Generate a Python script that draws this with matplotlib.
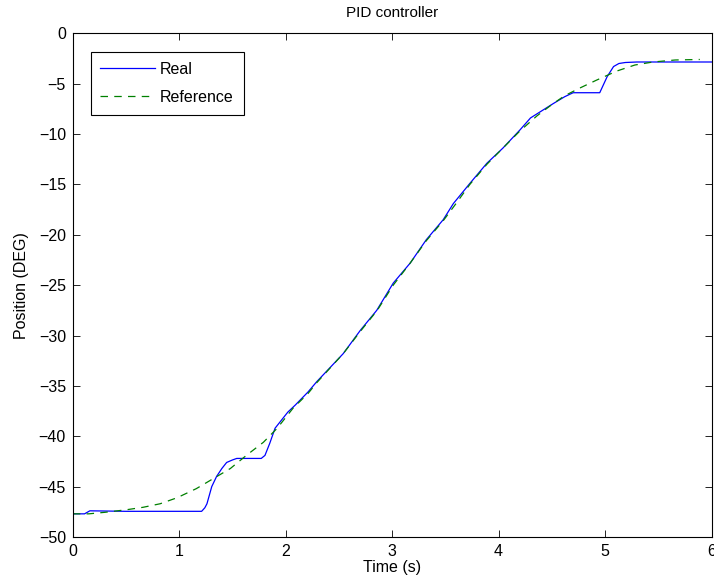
#!/usr/bin/env python3
"""PID controller step tracking: measured position vs reference trajectory."""

import matplotlib
matplotlib.use("Agg")
import matplotlib.pyplot as plt

plt.rcParams['font.family'] = ['Liberation Sans', 'DejaVu Sans']
plt.rcParams['font.size'] = 11.5

# Reference trajectory
ref_t = [0.0, 0.15, 0.3, 0.5, 0.66, 0.82, 0.98, 1.16, 1.32, 1.48, 1.63, 1.79,
         1.92, 2.07, 2.21, 2.29, 2.54, 2.70, 2.86, 3.01, 3.17, 3.32, 3.48,
         3.60, 3.73, 3.89, 4.04, 4.20, 4.36, 4.51, 4.62, 4.76, 4.92, 5.11,
         5.28, 5.45, 5.66, 5.89]
ref_pos = [-47.7, -47.7, -47.55, -47.3, -47.05, -46.7, -46.1, -45.2, -44.2,
           -43.2, -41.9, -40.6, -39.2, -37.2, -35.75, -34.7, -31.8, -29.6,
           -27.5, -25.0, -22.8, -20.6, -18.6, -16.9, -15.0, -13.0, -11.4,
           -9.7, -8.2, -7.0, -6.2, -5.45, -4.65, -3.75, -3.15, -2.85, -2.65,
           -2.6]

# Measured ("Real") position
real_t = [0.0, 0.11, 0.16, 0.5, 1.0, 1.21, 1.24, 1.26, 1.305, 1.35, 1.40,
          1.445, 1.50, 1.54, 1.77, 1.805, 1.85, 1.90, 1.96, 2.02, 2.09, 2.21,
          2.29, 2.54, 2.70, 2.855, 3.01, 3.17, 3.32, 3.48, 3.575, 3.73, 3.89,
          4.04, 4.20, 4.30, 4.36, 4.51, 4.62, 4.70, 4.95, 5.02, 5.08, 5.13,
          5.19, 5.3, 6.0]
real_pos = [-47.7, -47.7, -47.4, -47.45, -47.45, -47.45, -47.1, -46.7, -45.0,
            -44.0, -43.2, -42.6, -42.35, -42.2, -42.2, -41.9, -40.7, -39.2,
            -38.4, -37.6, -36.9, -35.6, -34.6, -31.8, -29.5, -27.5, -24.8,
            -22.8, -20.5, -18.5, -16.9, -14.9, -12.9, -11.4, -9.6, -8.4, -8.0,
            -7.0, -6.3, -5.9, -5.9, -4.3, -3.3, -3.0, -2.9, -2.85, -2.85]

xticks = [0, 1, 2, 3, 4, 5, 6]
yticks = [0, -5, -10, -15, -20, -25, -30, -35, -40, -45, -50]


def main():
    fig = plt.figure(figsize=(7.14, 5.86), dpi=100)
    ax = fig.add_axes([0.102, 0.0836, 0.8945, 0.8596])

    ax.plot(real_t, real_pos, color='#0000ff', lw=0.9, label='Real')
    ax.plot(ref_t, ref_pos, color='#008000', lw=0.9,
            linestyle=(0, (6, 5)), label='Reference')

    ax.set_xlim(0, 6)
    ax.set_ylim(-50, 0)
    ax.set_xticks(xticks)
    ax.set_yticks(yticks)
    ax.tick_params(direction='in', top=True, right=True, length=5, width=0.6,
                   pad=5)
    for s in ax.spines.values():
        s.set_linewidth(0.8)

    ax.set_title('PID controller', fontsize=11, pad=12)
    ax.set_xlabel('Time (s)', labelpad=1)
    ax.set_ylabel('Position (DEG)', labelpad=7)

    leg = ax.legend(loc='upper left', bbox_to_anchor=(0.028, 0.963),
                    borderaxespad=0, fancybox=False, framealpha=1,
                    edgecolor='black', handlelength=3.4, handletextpad=0.35,
                    labelspacing=0.85, borderpad=0.6)
    leg.get_frame().set_linewidth(0.8)

    fig.savefig('out.png', dpi=100)
    plt.close(fig)


if __name__ == '__main__':
    main()
